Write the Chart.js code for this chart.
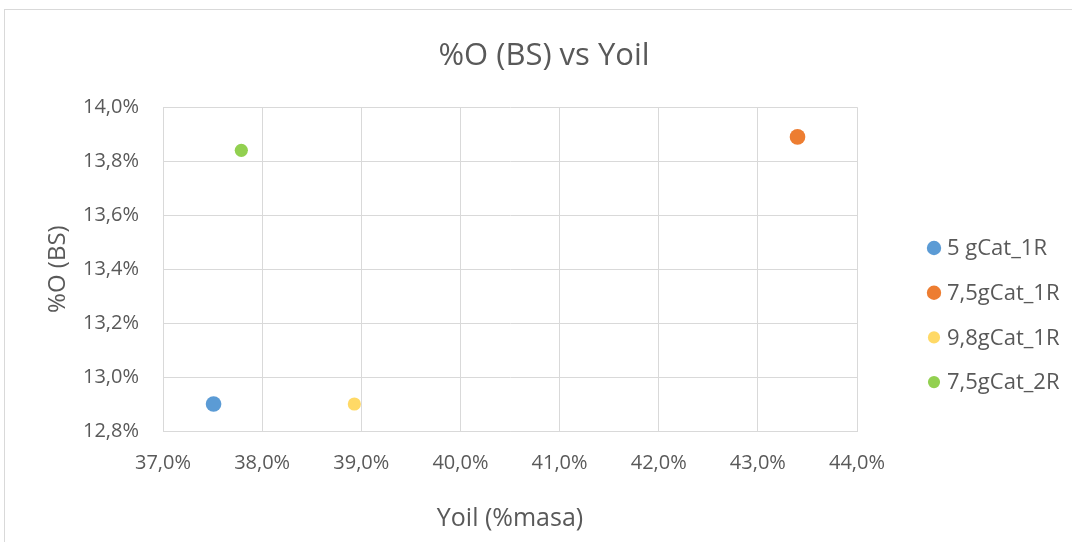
<!DOCTYPE html>
<html>
<head>
<meta charset="utf-8">
<script src="https://cdn.jsdelivr.net/npm/chart.js@4.4.1/dist/chart.umd.min.js"></script>
<style>
  html, body { margin: 0; padding: 0; background: #ffffff; overflow: hidden; }
  #wrap { position: relative; width: 1072px; height: 542px; }
  #frame { position: absolute; left: 4px; top: 9px; width: 2000px; height: 2000px; border: 1px solid #d9d9d9; box-sizing: border-box; }
  canvas { position: absolute; left: 0; top: 0; }
</style>
</head>
<body>
<div id="wrap">
  <div id="frame"></div>
  <canvas id="c" width="1072" height="542"></canvas>
</div>
<script>
// Series (one point each): catalyst load / run
const seriesNames = ['5 gCat_1R', '7,5gCat_1R', '9,8gCat_1R', '7,5gCat_2R'];
const seriesColors = ['#5b9bd5', '#ed7d31', '#ffd966', '#92d050'];
const seriesRadius = [7.8, 7.8, 6.6, 6.6];
// Oil yield (% mass) and oxygen content on dry basis (%)
const yoil = [37.51, 43.40, 38.93, 37.79];
const oxygenBS = [12.90, 13.89, 12.90, 13.84];

// Axis ranges
const xRange = { min: 37, max: 44, step: 1 };
const yRange = { min: 12.8, max: 14.0, step: 0.2 };

const TEXT = '#595959';
const GRID = '#d9d9d9';
const FONT = "'Open Sans', sans-serif";

const fmtPct = v => v.toFixed(1).replace('.', ',') + '%';

const datasets = seriesNames.map((name, i) => ({
  label: name,
  data: [{ x: yoil[i], y: oxygenBS[i] }],
  backgroundColor: seriesColors[i],
  borderColor: seriesColors[i],
  borderWidth: 0,
  pointRadius: seriesRadius[i],
  pointHoverRadius: seriesRadius[i]
}));

// Legend drawn to the right of the plot area
const sideLegend = {
  id: 'sideLegend',
  afterDraw(chart) {
    const ctx = chart.ctx;
    const area = chart.chartArea;
    const x0 = area.right + 77;
    const y0 = 248;
    const step = 44.7;
    ctx.save();
    ctx.font = "22px " + FONT;
    ctx.textBaseline = 'middle';
    ctx.textAlign = 'left';
    chart.data.datasets.forEach((ds, i) => {
      const y = y0 + i * step;
      ctx.beginPath();
      ctx.fillStyle = ds.backgroundColor;
      ctx.arc(x0, y, ds.pointRadius * 0.92, 0, Math.PI * 2);
      ctx.fill();
      ctx.fillStyle = TEXT;
      ctx.fillText(ds.label, x0 + 13, y + 1);
    });
    ctx.restore();
  }
};

new Chart(document.getElementById('c'), {
  type: 'scatter',
  data: { datasets },
  plugins: [sideLegend],
  options: {
    responsive: false,
    devicePixelRatio: 1,
    animation: false,
    events: [],
    layout: { padding: { left: 16, right: 0, top: 0, bottom: 0 } },
    plugins: {
      legend: { display: false },
      tooltip: { enabled: false },
      title: {
        display: true,
        text: '%O (BS) vs Yoil',
        color: TEXT,
        font: { family: FONT, size: 31, weight: 'normal' },
        padding: { top: 38, bottom: 32 }
      }
    },
    scales: {
      x: {
        type: 'linear',
        min: xRange.min, max: xRange.max,
        afterFit(s) { s.height = 111; },
        grid: { color: GRID, lineWidth: 1, drawTicks: false },
        border: { color: GRID, width: 1 },
        ticks: {
          stepSize: xRange.step,
          padding: 20,
          color: TEXT,
          font: { family: FONT, size: 20 },
          callback: v => fmtPct(v)
        },
        title: {
          display: true,
          text: 'Yoil (%masa)',
          color: TEXT,
          font: { family: FONT, size: 25 },
          padding: { top: 0, bottom: 8 }
        }
      },
      y: {
        type: 'linear',
        min: yRange.min, max: yRange.max,
        afterFit(s) { s.width = 147; },
        grid: { color: GRID, lineWidth: 1, drawTicks: false },
        border: { color: GRID, width: 1 },
        ticks: {
          stepSize: yRange.step,
          padding: 24,
          color: TEXT,
          font: { family: FONT, size: 20 },
          callback: v => fmtPct(v)
        },
        title: {
          display: true,
          text: '%O (BS)',
          color: TEXT,
          font: { family: FONT, size: 24 },
          padding: { top: 28, bottom: 0 }
        }
      },
      legendSpace: {
        type: 'linear',
        axis: 'y',
        position: 'right',
        display: true,
        afterFit(s) { s.width = 215; },
        grid: { display: false, drawTicks: false },
        border: { display: false },
        ticks: { display: false }
      }
    }
  }
});
</script>
</body>
</html>
